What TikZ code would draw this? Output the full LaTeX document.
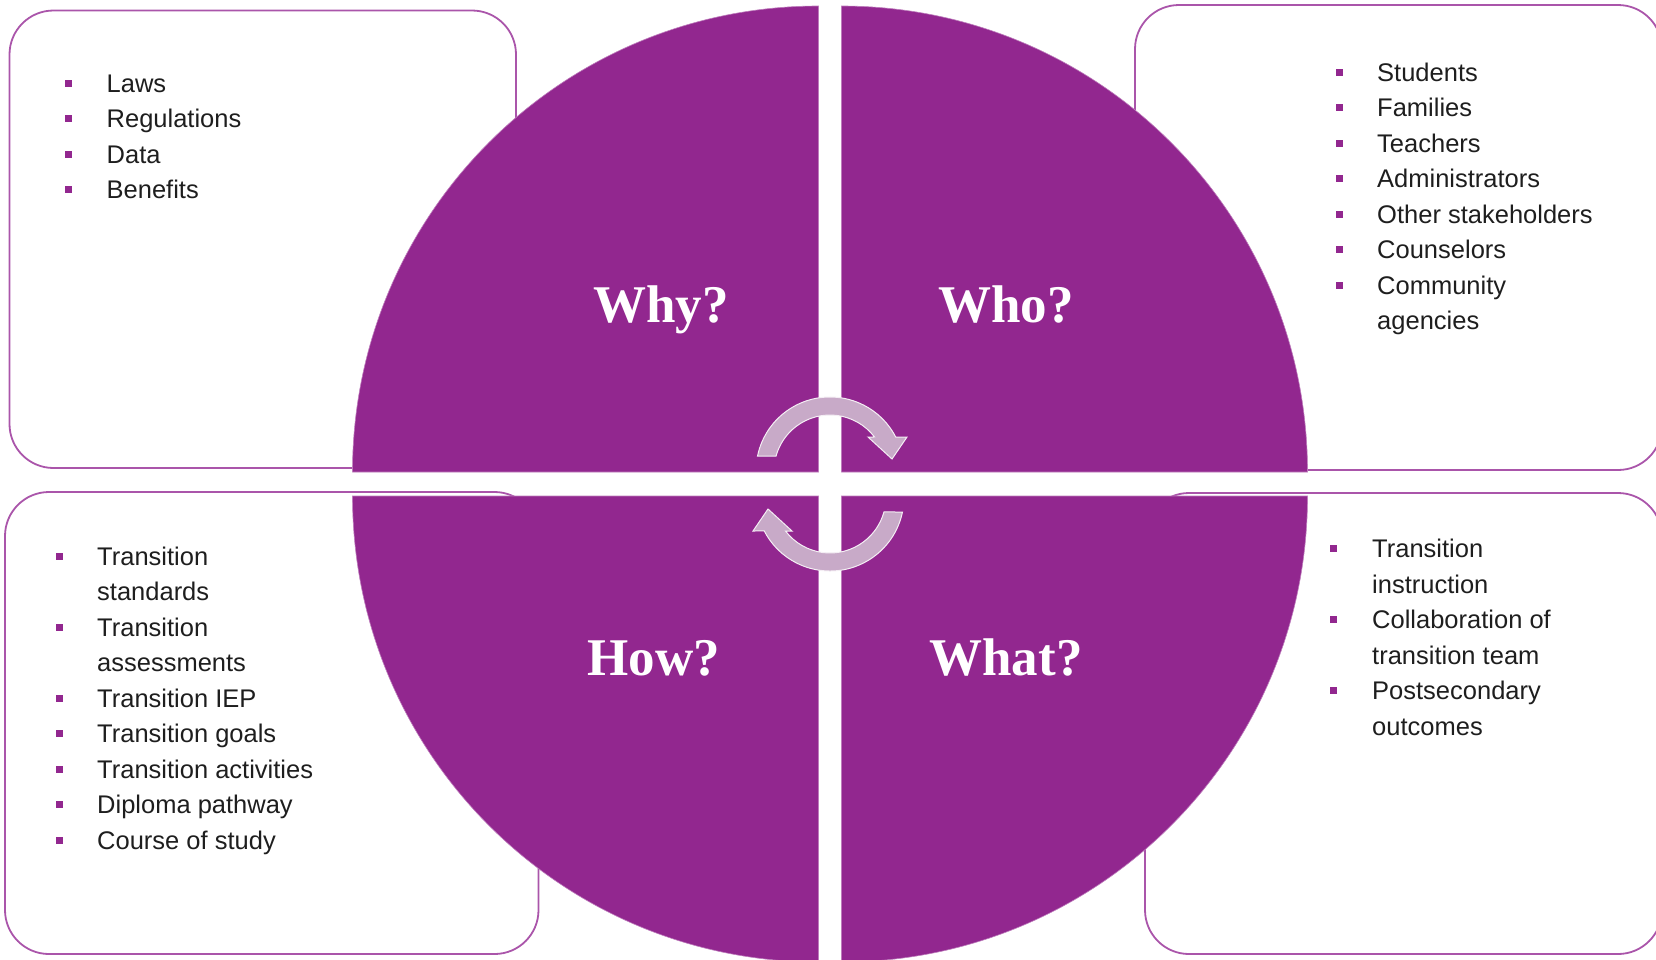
\documentclass[tikz,border=0pt]{standalone}
\usepackage{fontspec}
\setmainfont{Liberation Sans}
\newfontfamily\titlefont{Liberation Serif}
\usetikzlibrary{calc}
\definecolor{Purp}{RGB}{146,39,143}
\definecolor{BoxLine}{RGB}{170,85,170}
\definecolor{ArrFill}{RGB}{200,170,200}
\definecolor{TextCol}{RGB}{30,30,30}
\begin{document}
\begin{tikzpicture}[x=1pt,y=-1pt,
  box/.style={draw=BoxLine, line width=1.8pt, rounded corners=44pt},
  quad/.style={fill=Purp, draw=Purp!60!white, line width=0.6pt},
  arrowshape/.style={fill=ArrFill, draw=white!80!ArrFill, line width=1pt},
  title/.style={font=\titlefont\bfseries\fontsize{53}{60}\selectfont, text=white, anchor=base, inner sep=0pt},
  item/.style={font=\fontsize{25.5}{30}\selectfont, text=TextCol, anchor=base west, inner sep=0pt},
  bullet/.style={fill=Purp, minimum size=7pt, inner sep=0pt, outer sep=0pt},
]
\useasboundingbox (0,0) rectangle (1656,959);
\clip (0,0) rectangle (1656,959);
% boxes
\draw[box] (9.5,10.5) rectangle (516,468);
\draw[box] (1135,5) rectangle (1662,470);
\draw[box] (5,492) rectangle (538.5,954);
\draw[box] (1145,493) rectangle (1662,954);
% quadrants
\path[quad] (818.5,472) -- (352.5,472) arc[start angle=180,end angle=270,radius=466] -- cycle;
\path[quad] (841.5,472) -- (841.5,6) arc[start angle=270,end angle=360,radius=466] -- cycle;
\path[quad] (818.5,496) -- (352.5,496) arc[start angle=180,end angle=90,radius=466] -- cycle;
\path[quad] (841.5,496) -- (1307.5,496) arc[start angle=0,end angle=90,radius=466] -- cycle;
% circular arrows
\begin{scope}[shift={(830,471)}]
  \path[arrowshape] (-168.3:74) arc[start angle=-168.3,end angle=-27.3,radius=74]
    -- (77,-34) -- (62,-12) -- (38,-34) -- (-37.4:56)
    arc[start angle=-37.4,end angle=-164.5,radius=56] -- cycle;
\end{scope}
\begin{scope}[shift={(830,497)}, rotate=180]
  \path[arrowshape] (-168.3:74) arc[start angle=-168.3,end angle=-27.3,radius=74]
    -- (77,-34) -- (62,-12) -- (38,-34) -- (-37.4:56)
    arc[start angle=-37.4,end angle=-164.5,radius=56] -- cycle;
\end{scope}
% titles
\node[title] (why) at (661,322) {Why?};
\node[title] (who) at (1006,322) {Who?};
\node[title] (how) at (654,675) {How?};
\node[title] (what) at (1006,675) {What?};
% top-left list
\foreach \t/\b [count=\i] in {Laws/1, Regulations/1, Data/1, Benefits/1} {
  \node[item] (tl\i) at (106.5,{92+(\i-1)*35.5}) {\t};
  \ifnum\b=1 \node[bullet] (tlb\i) at (68.5,{92+(\i-1)*35.5-9}) {};\fi
}
% top-right list
\foreach \t/\b [count=\i] in {Students/1, Families/1, Teachers/1, Administrators/1, Other stakeholders/1, Counselors/1, Community/1, agencies/0} {
  \node[item] (tr\i) at (1377,{81+(\i-1)*35.5}) {\t};
  \ifnum\b=1 \node[bullet] (trb\i) at (1339,{81+(\i-1)*35.5-9}) {};\fi
}
% bottom-left list
\foreach \t/\b [count=\i] in {Transition/1, standards/0, Transition/1, assessments/0, Transition IEP/1, Transition goals/1, Transition activities/1, Diploma pathway/1, Course of study/1} {
  \node[item] (bl\i) at (97,{565+(\i-1)*35.5}) {\t};
  \ifnum\b=1 \node[bullet] (blb\i) at (59,{565+(\i-1)*35.5-9}) {};\fi
}
% bottom-right list
\foreach \t/\b [count=\i] in {Transition/1, instruction/0, Collaboration of/1, transition team/0, Postsecondary/1, outcomes/0} {
  \node[item] (br\i) at (1372,{557.5+(\i-1)*35.5}) {\t};
  \ifnum\b=1 \node[bullet] (brb\i) at (1333,{557.5+(\i-1)*35.5-9}) {};\fi
}
\end{tikzpicture}
\end{document}
